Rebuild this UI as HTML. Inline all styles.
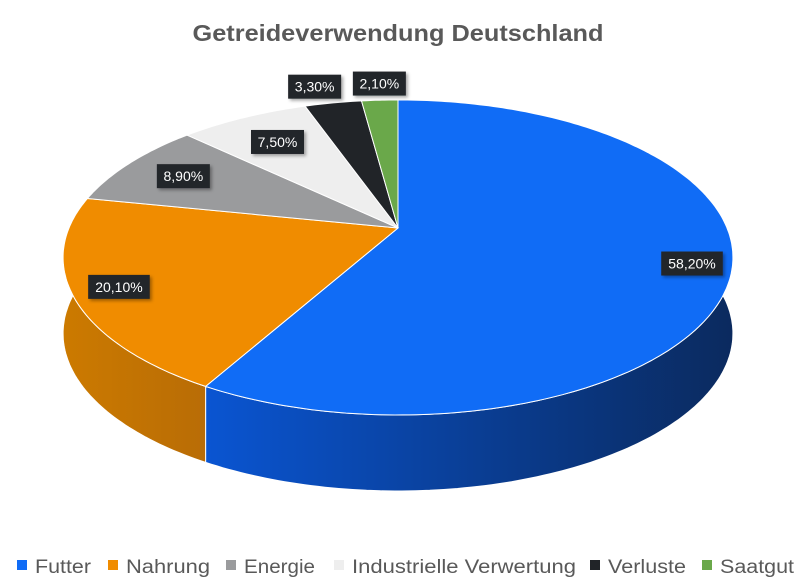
<!DOCTYPE html>
<html><head><meta charset="utf-8"><style>
body{margin:0;background:#fff;}
svg{display:block;font-family:"Liberation Sans",sans-serif;}
</style></head><body>
<svg id="chart" width="800" height="587" viewBox="0 0 800 587">
<defs>
<linearGradient id="gF" x1="205" x2="735" y1="0" y2="0" gradientUnits="userSpaceOnUse"><stop offset="0" stop-color="#0a55d2"/><stop offset="0.6" stop-color="#0a3a8a"/><stop offset="1" stop-color="#0b2a5e"/></linearGradient>
<linearGradient id="gN" x1="63" x2="210" y1="0" y2="0" gradientUnits="userSpaceOnUse"><stop offset="0" stop-color="#cc7a00"/><stop offset="1" stop-color="#b86c06"/></linearGradient>
<filter id="sh" x="-20%" y="-20%" width="150%" height="160%"><feDropShadow dx="2" dy="2" stdDeviation="1.5" flood-opacity="0.35"/></filter>
</defs>
<text x="398" y="41" text-anchor="middle" font-size="23" font-weight="bold" fill="#595959" textLength="411" lengthAdjust="spacingAndGlyphs">Getreideverwendung Deutschland</text>
<g id="pie"></g>
<g id="labels"></g>
<g id="legend"></g>
</svg>
<script>
const categories = ["Futter","Nahrung","Energie","Industrielle Verwertung","Verluste","Saatgut"];
const values = [58.2,20.1,8.9,7.5,3.3,2.1];
const valueLabels = ["58,20%","20,10%","8,90%","7,50%","3,30%","2,10%"];
const colors = ["#106cf6","#f08c00","#9a9b9d","#eeeeee","#212428","#6aa84a"];
const NS="http://www.w3.org/2000/svg";
const cx=398, cy=228, R=329, R2=152, k=0.187, depth=76;
function pt(a){
  const r=a*Math.PI/180, u=Math.sin(r), v=-Math.cos(r), p=1/(1-k*v);
  return [cx+R*u*p, cy+R2*v*p];
}
function arcPts(a0,a1,dy){const n=Math.max(2,Math.ceil(Math.abs(a1-a0)));const out=[];for(let i=0;i<=n;i++){const p=pt(a0+(a1-a0)*i/n);out.push([p[0],p[1]+dy]);}return out;}
const pie=document.getElementById('pie');
const total=values.reduce((s,v)=>s+v,0);
let acc=0;const ang=[];
values.forEach(v=>{ang.push([acc/total*360,(acc+v)/total*360]);acc+=v;});
values.forEach((v,i)=>{
  const a0=Math.max(ang[i][0],85), a1=Math.min(ang[i][1],275);
  if(a1<=a0) return;
  const top=arcPts(a0,a1,0), bot=arcPts(a1,a0,depth);
  const pts=top.concat(bot);
  const el=document.createElementNS(NS,'path');
  el.setAttribute('d','M'+pts.map(p=>p[0].toFixed(1)+','+p[1].toFixed(1)).join('L')+'Z');
  el.setAttribute('fill', i===0?'url(#gF)':(i===1?'url(#gN)':colors[i]));
  el.setAttribute('stroke','#fff');el.setAttribute('stroke-width','1');
  
  
  pie.appendChild(el);
});
values.forEach((v,i)=>{
  const pts=[[cx,cy]].concat(arcPts(ang[i][0],ang[i][1],0));
  const el=document.createElementNS(NS,'path');
  el.setAttribute('d','M'+pts.map(p=>p[0].toFixed(1)+','+p[1].toFixed(1)).join('L')+'Z');
  el.setAttribute('fill',colors[i]);el.setAttribute('stroke','#fff');el.setAttribute('stroke-width','1');
  
  
  pie.appendChild(el);
});
const lab=document.getElementById('labels');
const radF=[0.88,0.86,0.80,0.78,1.13,1.13];
const labelOffX=[0,0,0,0,-10,2];
values.forEach((v,i)=>{
  const mid=(ang[i][0]+ang[i][1])/2;
  const r=mid*Math.PI/180,u=Math.sin(r),vv=-Math.cos(r),p=1/(1-k*vv);
  let x=cx+R*u*p*radF[i]+labelOffX[i], y=cy+R2*vv*p*radF[i];
  const w=valueLabels[i].length*8.6+10, h=24;
  const g=document.createElementNS(NS,'g');
  
  
  const rc=document.createElementNS(NS,'rect');
  rc.setAttribute('x',x-w/2);rc.setAttribute('y',y-h/2);rc.setAttribute('width',w);rc.setAttribute('height',h);
  rc.setAttribute('fill','#23262b');rc.setAttribute('filter','url(#sh)');
  const t=document.createElementNS(NS,'text');
  t.setAttribute('x',x);t.setAttribute('y',y+5);t.setAttribute('text-anchor','middle');
  t.setAttribute('font-size','14');t.setAttribute('fill','#fff');t.textContent=valueLabels[i];
  g.appendChild(rc);g.appendChild(t);lab.appendChild(g);
});
const leg=document.getElementById('legend');
const legX=[17,108,226,334,590,702];
const legW=[56,84,71,224,78,74];
categories.forEach((c,i)=>{
  const g=document.createElementNS(NS,'g');
  
  
  const s=document.createElementNS(NS,'rect');
  s.setAttribute('x',legX[i]);s.setAttribute('y',560);s.setAttribute('width',10);s.setAttribute('height',10);s.setAttribute('fill',colors[i]);
  const t=document.createElementNS(NS,'text');
  t.setAttribute('x',legX[i]+18);t.setAttribute('y',573);t.setAttribute('font-size','19');t.setAttribute('fill','#595959');
  t.setAttribute('textLength',legW[i]);t.setAttribute('lengthAdjust','spacingAndGlyphs');t.textContent=c;
  g.appendChild(s);g.appendChild(t);leg.appendChild(g);
});
</script>
</body></html>
